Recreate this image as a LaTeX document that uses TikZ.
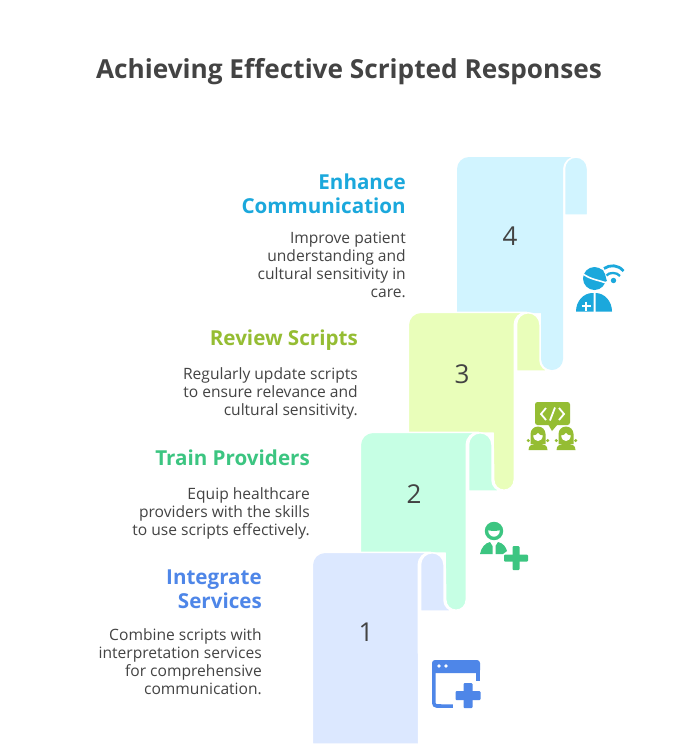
\documentclass[tikz,border=0pt]{standalone}
\usepackage{fontspec}
\setmainfont{Open Sans}
\definecolor{ink}{HTML}{434343}
\definecolor{cA}{HTML}{4E86E8}\definecolor{fA}{HTML}{DCE8FF}
\definecolor{cB}{HTML}{3CC581}\definecolor{fB}{HTML}{C6FFE4}
\definecolor{cC}{HTML}{95BD33}\definecolor{fC}{HTML}{E9FEBA}
\definecolor{cD}{HTML}{1BA8DC}\definecolor{fD}{HTML}{D1F4FF}
\newcommand{\sheetbody}[5]{% L,T,leftlen,tail,colour
 \begin{scope}[shift={(#1,-#2)}]
 \path[draw=white,line width=1.5pt,fill=#5] (-0.75,-#3) -- (-0.75,-12) arc(180:90:12.75) -- (118,0.75) arc(90:180:12.75) -- (105.25,-#4+11) arc(0:-180:10.25) -- (84,-#3) -- cycle;
 \end{scope}}
\newcommand{\flapconcave}[3]{%
 \begin{scope}[shift={(#1,-#2)}]
 \path[draw=white,line width=1.5pt,fill=#3] (107.5,-58) -- (107.5,-11.5) arc(180:90:11.75) arc(90:0:11.75) -- (131,-47) arc(180:270:11) -- cycle;
 \end{scope}}
\tikzset{
 head/.style={anchor=north east,align=right,inner sep=0pt,font=\fontsize{20.6}{24}\selectfont\bfseries},
 desc/.style={anchor=north east,align=right,text=ink,font=\fontsize{15.6}{18}\selectfont,inner sep=0pt},
 num/.style={text=ink,font=\fontsize{26}{30}\selectfont},
 cut/.style={draw=white,line width=1.3pt,line cap=round}
}
\begin{document}
\begin{tikzpicture}[x=1pt,y=1pt]
\useasboundingbox (0,0) rectangle (697,-756);
\fill[white] (0,0) rectangle (697,-756);
\node[text=ink,font=\fontsize{26.2}{30}\selectfont\bfseries] (title) at (349,-72) {Achieving Effective Scripted Responses};
% sheet 4
\begin{scope}[shift={(457,-157)}]
\path[fill=fD] (0,-156) -- (0,-12) arc(180:90:12) -- (118,0) arc(90:180:12) -- (106,-202) arc(0:-180:11) -- (84,-156) -- cycle;
\path[draw=white,line width=1.5pt,fill=fD] (107.5,-58) -- (107.5,-11.5) arc(180:90:11.5) arc(90:0:11.5) -- (130.5,-58) -- cycle;
\end{scope}
% sheets 3, 2
\sheetbody{409}{313}{120}{178}{fC}
\flapconcave{409}{313}{fC}
\sheetbody{361}{433}{120}{178}{fB}
\flapconcave{361}{433}{fB}
% sheet 1
\begin{scope}[shift={(313,-553)}]
\path[draw=white,line width=1.5pt,fill=fA] (-0.75,-191) -- (-0.75,-12) arc(180:90:12.75) -- (118,0.75) arc(90:180:12.75) -- (105.75,-191) -- cycle;
\end{scope}
\flapconcave{313}{553}{fA}
% numbers
\node[num] (n4) at (510,-236) {4};
\node[num] (n3) at (462,-374) {3};
\node[num] (n2) at (414,-494) {2};
\node[num] (n1) at (366,-632) {1};
% texts
\node[head,text=cD] (h4) at (406,-173.5) {Enhance\\Communication};
\node[desc] (d4) at (406,-232) {Improve patient\\understanding and\\cultural sensitivity in\\care.};
\node[head,text=cC] (h3) at (358,-329.5) {Review Scripts};
\node[desc] (d3) at (358,-367) {Regularly update scripts\\to ensure relevance and\\cultural sensitivity.};
\node[head,text=cB] (h2) at (310,-449.5) {Train Providers};
\node[desc] (d2) at (310,-487) {Equip healthcare\\providers with the skills\\to use scripts effectively.};
\node[head,text=cA] (h1) at (262,-569.5) {Integrate\\Services};
\node[desc] (d1) at (262,-628) {Combine scripts with\\interpretation services\\for comprehensive\\communication.};
% icon 4
\begin{scope}[cD]
\fill (594.5,-278.5) circle (11.5);
\fill (596,-268) -- (603,-270) -- (607,-281) -- (600,-283) -- cycle;
\draw[cut,line width=1.6pt] (582,-273) .. controls (590,-280) and (600,-280) .. (607,-283.5);
\fill (576,-311.5) arc(180:90:16.5 and 18.5) -- (593.5,-293) -- (593.5,-311.5) -- cycle;
\fill (612,-311.5) arc(0:90:16.5 and 18.5) -- (595.5,-293) -- (595.5,-311.5) -- cycle;
\draw[white,line width=1.8pt] (581.5,-306) -- (590.5,-306) (586,-301.5) -- (586,-310.5);
\fill (613.5,-280.5) circle (2.7);
\draw[line width=2.3pt] (606.5,-275.5) .. controls (609,-272) and (617,-272) .. (620,-276);
\draw[line width=2.8pt] (604,-268.5) .. controls (610,-264.5) and (618,-264.5) .. (623.5,-271);
\end{scope}
% icon 3
\begin{scope}[cC]
\fill[rounded corners=2.5pt] (535,-402) rectangle (570,-425);
\fill (548,-424) -- (558,-424) -- (552,-431) -- cycle;
\draw[white,line width=1.8pt] (546,-408) -- (541,-414) -- (546,-420) (559,-408) -- (564,-414) -- (559,-420) (555,-407.5) -- (550,-420.5);
\foreach \cx in {538,566}{
 \fill (\cx-7.5,-444) -- (\cx-7.5,-434) arc(180:0:7.5) -- (\cx+7.5,-444) -- cycle;
 \fill (\cx-9.7,-440.5) circle (1.7) (\cx+9.7,-440.5) circle (1.7);
 \fill (\cx-9.5,-450) .. controls (\cx-9.5,-445) and (\cx-6,-444) .. (\cx,-444) .. controls (\cx+6,-444) and (\cx+9.5,-445) .. (\cx+9.5,-450) -- cycle;
 \fill[white] (\cx-4.8,-435.5) .. controls (\cx-2.5,-435.5) and (\cx-1,-434.5) .. (\cx,-433) .. controls (\cx+1,-434.5) and (\cx+2.5,-435.5) .. (\cx+4.8,-435.5) .. controls (\cx+4.5,-439.5) and (\cx+2,-441) .. (\cx,-441) .. controls (\cx-2,-441) and (\cx-4.5,-439.5) .. (\cx-4.8,-435.5) -- cycle;
}
\end{scope}
% icon 2
\begin{scope}[cB]
\draw[line width=3.4pt] (494,-531) circle (7.5);
\fill (486.5,-529.5) arc(180:0:7.5 and 7) .. controls (498,-531.5) and (490,-531.5) .. cycle;
\fill (480,-554) .. controls (481,-548) and (485,-543) .. (490,-542) -- (492.5,-546) -- (492.5,-554) -- cycle;
\fill (507,-551) .. controls (506,-547) and (503,-543) .. (498,-542) -- (495.5,-546) -- (495.5,-554) -- (503,-554) -- cycle;
\fill[rounded corners=1pt] (512.5,-546) rectangle (519.5,-570);
\fill[rounded corners=1pt] (504,-554.5) rectangle (528,-561.5);
\end{scope}
% icon 1
\begin{scope}[cA]
\fill[rounded corners=3pt] (432,-660) rectangle (480,-673);
\fill (432,-668) rectangle (480,-672);
\draw[line width=3.6pt] (433.8,-668) -- (433.8,-703) arc(180:270:3) -- (458,-706.2);
\draw[line width=3.6pt] (478.2,-668) -- (478.2,-687);
\fill[white] (439,-666) circle (1.8) (446,-666) circle (1.8);
\fill[white] (461,-681) rectangle (483,-712);
\fill[white] (453,-689) rectangle (483,-712);
\fill[rounded corners=1pt] (463.5,-683) rectangle (472.5,-708);
\fill[rounded corners=1pt] (455.5,-691) rectangle (480.5,-700);
\end{scope}
\end{tikzpicture}
\end{document}
